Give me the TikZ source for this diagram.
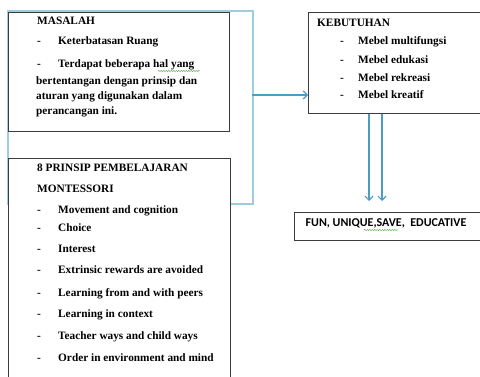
\documentclass[tikz,border=0pt]{standalone}
\usepackage{fontspec}
\setmainfont{Liberation Serif}
\newfontfamily\calib{Carlito}
\usetikzlibrary{arrows.meta,decorations.pathmorphing}
\definecolor{arrowblue}{RGB}{75,158,192}
\definecolor{lightblue}{RGB}{160,205,222}
\definecolor{boxline}{RGB}{60,60,60}
\definecolor{spellgreen}{RGB}{90,170,80}
\tikzset{
  box/.style={draw=boxline, line width=0.9pt, fill=white, inner sep=0pt, anchor=north west},
  txt/.style={anchor=base west, inner sep=0pt, font=\bfseries\fontsize{11.3}{13}\selectfont},
  arr/.style={draw=arrowblue, line width=1.6pt, -{Straight Barb[length=4pt,width=8pt,line width=1.2pt]}},
  grp/.style={draw=lightblue, line width=1.6pt, inner sep=0pt, anchor=north west},
  squig/.style={draw=spellgreen, line width=0.5pt, decorate, decoration={snake, amplitude=0.6pt, segment length=2.5pt}}
}
\begin{document}
\begin{tikzpicture}[x=1pt,y=-1pt]
\useasboundingbox (0,0) rectangle (480,377);
% light blue group bracket
\node[grp, minimum width=245pt, minimum height=193pt] (group) at (7,10) {};
% boxes
\node[box, minimum width=221pt, minimum height=119pt] (mas) at (8,12) {};
\node[box, minimum width=222pt, minimum height=230pt] (mon) at (8,158) {};
\node[box, minimum width=180pt, minimum height=101pt] (keb) at (308,12) {};
\node[box, minimum width=190pt, minimum height=28pt] (fun) at (294,212) {};
% MASALAH text
\node[txt] (m0) at (37,25) {MASALAH};
\node[txt] (m1d) at (37,45) {-};
\node[txt] (m1) at (58,45) {Keterbatasan Ruang};
\node[txt] (m2d) at (37,68) {-};
\node[txt] (m2) at (58,68) {Terdapat beberapa hal yang};
\node[txt] (m3) at (36,85) {bertentangan dengan prinsip dan};
\node[txt] (m4) at (36,100) {aturan yang digunakan dalam};
\node[txt] (m5) at (36,115) {perancangan ini.};
% MONTESSORI text
\node[txt] (p0) at (37,172) {8 PRINSIP PEMBELAJARAN};
\node[txt] (p1) at (37,193) {MONTESSORI};
\foreach \y/\t [count=\i] in {214/Movement and cognition,232/Choice,253/Interest,273/Extrinsic rewards are avoided,297/Learning from and with peers,317/Learning in context,339/Teacher ways and child ways,362/Order in environment and mind}{
  \node[txt] (pd\i) at (37,\y) {-};
  \node[txt] (pi\i) at (58,\y) {\t};
}
% KEBUTUHAN text
\node[txt] (k0) at (317,27) {KEBUTUHAN};
\foreach \y/\t [count=\i] in {45/Mebel multifungsi,64/Mebel edukasi,82/Mebel rekreasi,99/Mebel kreatif}{
  \node[txt] (kd\i) at (340,\y) {-};
  \node[txt] (ki\i) at (358,\y) {\t};
}
% FUN text
\node[anchor=base, inner sep=0pt, font=\calib\bfseries\fontsize{12}{14}\selectfont] (f0) at (386,227) {FUN, UNIQUE,SAVE,\ \ EDUCATIVE};
% spell-check squiggles
\coordinate (s1a) at (158,71);
\coordinate (s1b) at (200,71);
\draw[squig] (s1a) -- (s1b);
\coordinate (s2a) at (364,230);
\coordinate (s2b) at (398,230);
\draw[squig] (s2a) -- (s2b);
% arrows
\coordinate (a0) at (252,95);
\draw[arr] (a0) -- (a0 -| keb.west);
\coordinate (e1) at (369,201);
\coordinate (e2) at (382,201);
\draw[arr] (keb.south -| e1) -- (e1);
\draw[arr] (keb.south -| e2) -- (e2);
\end{tikzpicture}
\end{document}
